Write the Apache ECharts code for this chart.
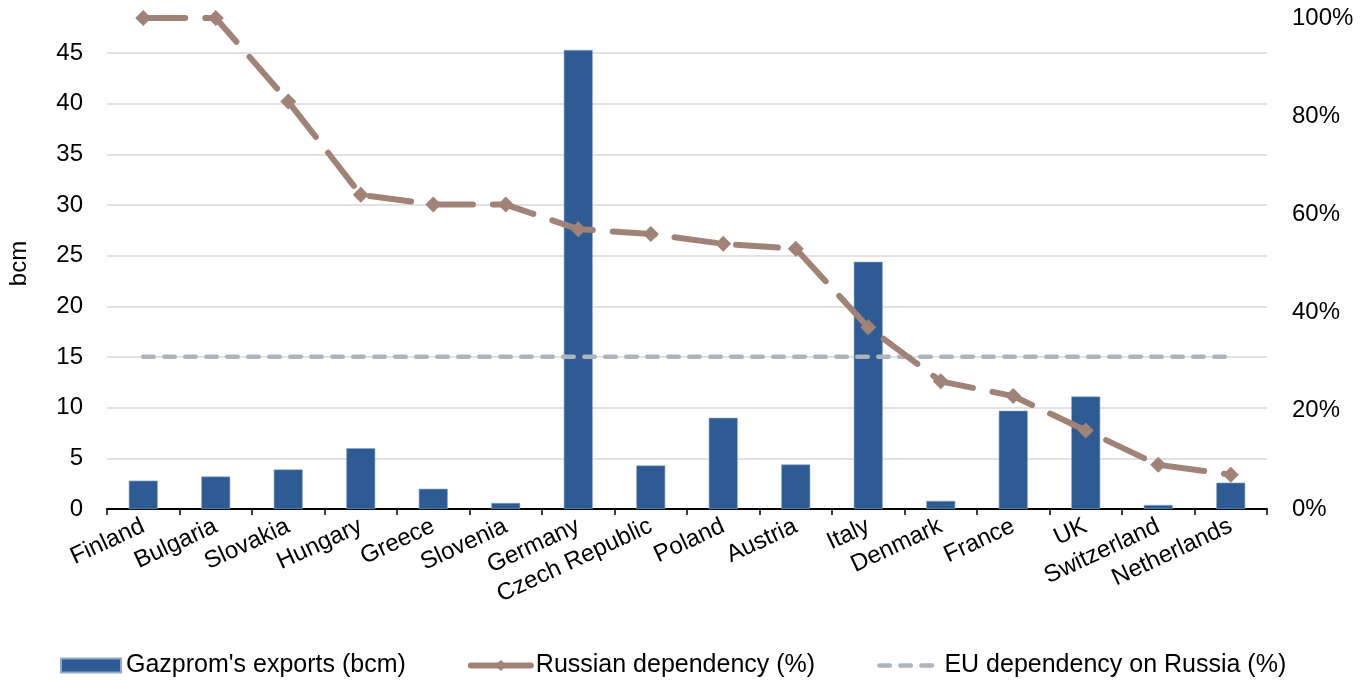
<!DOCTYPE html>
<html>
<head>
<meta charset="utf-8">
<script src="https://cdn.jsdelivr.net/npm/echarts@6/dist/echarts.min.js"></script>
<style>
html,body{margin:0;padding:0;background:#fff;}
#chart{width:1371px;height:680px;}
</style>
</head>
<body>
<div id="chart"></div>
<script>
var countries = ["Finland","Bulgaria","Slovakia","Hungary","Greece","Slovenia","Germany","Czech Republic","Poland","Austria","Italy","Denmark","France","UK","Switzerland","Netherlands"];
var gazpromExports = [2.8, 3.2, 3.9, 6.0, 2.0, 0.6, 45.3, 4.3, 9.0, 4.4, 24.4, 0.8, 9.7, 11.1, 0.4, 2.6];
var russianDependency = [100, 100, 83, 64, 62, 62, 57, 56, 54, 53, 37, 26, 23, 16, 9, 7];
var euDependency = [31, 31, 31, 31, 31, 31, 31, 31, 31, 31, 31, 31, 31, 31, 31, 31];
var leftTicks = { min: 0, max: 48.45, interval: 5 };
var rightTicks = { min: 0, max: 100, interval: 20 };

var chart = echarts.init(document.getElementById('chart'), null, {renderer: 'canvas'});
var font = 'Liberation Sans, Arial, sans-serif';
var brown = '#A08276';
var grey = '#AEB3BC';
chart.setOption({
  animation: false,
  textStyle: { fontFamily: font, color: '#000' },
  grid: { left: 107, right: 104, top: 18, bottom: 171, containLabel: false, outerBoundsMode: 'none' },
  legend: {
    top: 648,
    left: 55,
    itemWidth: 60,
    itemHeight: 14,
    itemGap: 62,
    textStyle: { fontSize: 25, color: '#000', fontFamily: font },
    data: [
      { name: "Gazprom's exports (bcm)", icon: 'rect' },
      { name: 'Russian dependency (%)', lineStyle: { width: 6, type: 'solid', color: brown } },
      { name: 'EU dependency on Russia (%)', itemStyle: { opacity: 0 }, lineStyle: { width: 4.5, type: [10.5, 10.5], cap: 'round', color: grey } }
    ]
  },
  xAxis: {
    type: 'category',
    data: countries,
    boundaryGap: true,
    axisLine: { lineStyle: { color: '#000', width: 2 } },
    axisTick: { show: true, length: 6, lineStyle: { color: '#000', width: 1.5 }, alignWithLabel: false },
    axisLabel: { interval: 0, rotate: 25, fontSize: 24, color: '#000', margin: 16, fontFamily: font }
  },
  yAxis: [
    {
      type: 'value',
      min: leftTicks.min, max: leftTicks.max, interval: leftTicks.interval,
      name: 'bcm', nameLocation: 'middle', nameGap: 76, nameRotate: 90,
      nameTextStyle: { fontSize: 24, color: '#000', fontFamily: font },
      axisLine: { show: false }, axisTick: { show: false },
      axisLabel: { fontSize: 24, color: '#000', margin: 24, showMaxLabel: false, fontFamily: font },
      splitLine: { show: true, showMaxLine: false, lineStyle: { color: '#D9D9D9', width: 1.5 } }
    },
    {
      type: 'value',
      min: rightTicks.min, max: rightTicks.max, interval: rightTicks.interval,
      position: 'right',
      axisLine: { show: false }, axisTick: { show: false },
      axisLabel: { fontSize: 24, color: '#000', margin: 25, formatter: '{value}%', fontFamily: font },
      splitLine: { show: false }
    }
  ],
  series: [
    {
      name: "Gazprom's exports (bcm)",
      type: 'bar',
      yAxisIndex: 0,
      data: gazpromExports,
      barWidth: 29,
      itemStyle: { color: '#2E5B94', borderColor: '#8FA9CC', borderWidth: 0.6 },
      z: 2
    },
    {
      name: 'EU dependency on Russia (%)',
      type: 'line',
      yAxisIndex: 1,
      data: euDependency,
      symbol: 'none',
      lineStyle: { color: grey, width: 4.5, type: [10.5, 10.5], cap: 'round' },
      itemStyle: { color: grey },
      z: 3
    },
    {
      name: 'Russian dependency (%)',
      type: 'line',
      yAxisIndex: 1,
      data: russianDependency,
      symbol: 'diamond',
      symbolSize: 16,
      clip: false,
      lineStyle: { color: brown, width: 6, type: [42, 20], cap: 'round' },
      itemStyle: { color: brown },
      z: 4
    }
  ]
});
</script>
</body>
</html>
